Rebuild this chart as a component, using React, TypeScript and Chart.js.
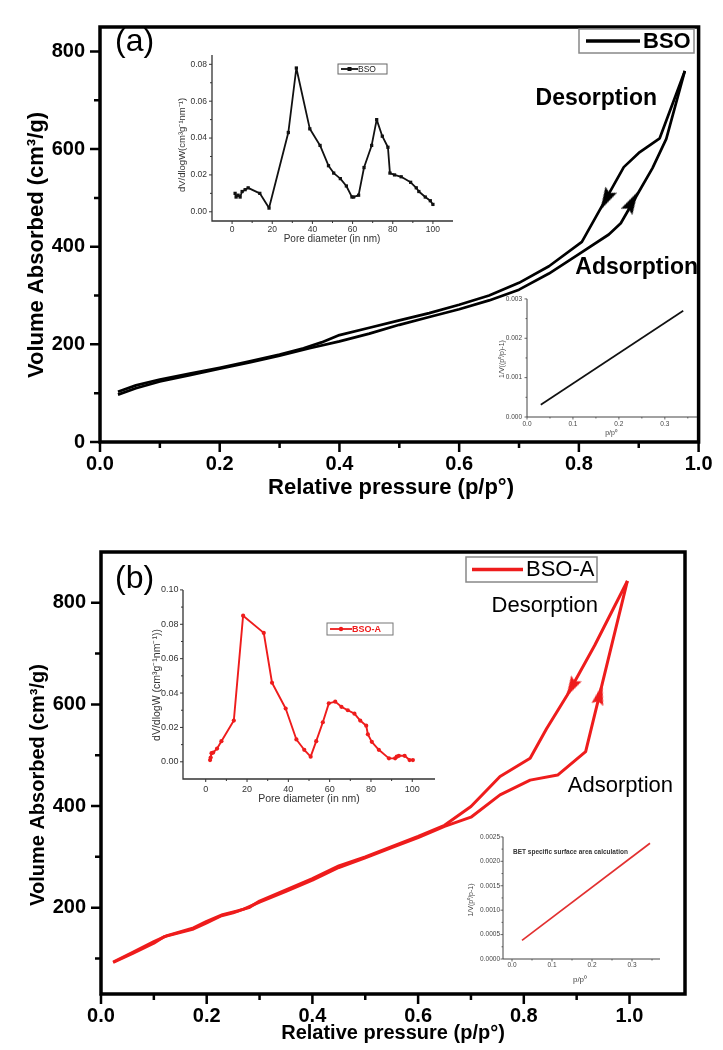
import React, { useEffect, useRef } from "react";
import { Chart, registerables } from "chart.js";

Chart.register(...registerables);

// ---------------- Panel (a): BSO ----------------
const A_ADS_P = [0.03, 0.06, 0.1, 0.15, 0.2, 0.25, 0.3, 0.35, 0.4, 0.45, 0.5, 0.55, 0.6, 0.65, 0.7, 0.75, 0.8, 0.85, 0.87, 0.9, 0.923, 0.946, 0.977];
const A_ADS_V = [97, 110, 124, 137, 150, 163, 177, 192, 206, 222, 240, 256, 272, 290, 312, 345, 385, 425, 448, 512, 561, 621, 760];
const A_DES_P = [0.03, 0.06, 0.1, 0.15, 0.2, 0.25, 0.3, 0.34, 0.37, 0.4, 0.45, 0.5, 0.55, 0.6, 0.65, 0.7, 0.75, 0.805, 0.875, 0.9, 0.935, 0.977];
const A_DES_V = [103, 116, 128, 140, 152, 165, 179, 192, 204, 219, 234, 249, 264, 281, 300, 326, 360, 410, 563, 592, 622, 760];
const A_ARROW_P = [0.845, 0.889];
const A_ARROW_V = [496, 492];

const A_PORE_D = [1.5, 2, 3, 4, 5, 6.5, 8, 13.8, 18.4, 28, 32, 38.7, 43.8, 48, 50.6, 53.9, 56.9, 59.7, 60.5, 63, 65.7, 69.5, 72, 74.8, 77.6, 78.6, 80.9, 84.2, 88.9, 91.7, 93, 96.2, 98.7, 100];
const A_PORE_V = [0.010, 0.008, 0.009, 0.008, 0.011, 0.012, 0.013, 0.010, 0.002, 0.043, 0.078, 0.045, 0.036, 0.025, 0.021, 0.018, 0.014, 0.008, 0.008, 0.009, 0.024, 0.036, 0.050, 0.041, 0.035, 0.021, 0.020, 0.019, 0.016, 0.013, 0.011, 0.008, 0.006, 0.004];

const A_BET_P = [0.03, 0.34];
const A_BET_Y = [0.00031, 0.0027];

// ---------------- Panel (b): BSO-A ----------------
const B_ADS_P = [0.023, 0.06, 0.1, 0.12, 0.175, 0.2, 0.228, 0.25, 0.27, 0.3, 0.35, 0.4, 0.45, 0.5, 0.55, 0.6, 0.65, 0.7, 0.755, 0.812, 0.864, 0.917, 0.996];
const B_ADS_V = [92, 110, 130, 143, 158, 170, 184, 190, 197, 211, 232, 254, 279, 298, 318, 338, 360, 378, 422, 451, 461, 507, 843];
const B_DES_P = [0.023, 0.06, 0.1, 0.125, 0.175, 0.2, 0.23, 0.26, 0.28, 0.3, 0.35, 0.4, 0.45, 0.5, 0.55, 0.6, 0.65, 0.7, 0.755, 0.812, 0.843, 0.882, 0.934, 0.996];
const B_DES_V = [93, 112, 133, 145, 160, 173, 186, 194, 200, 213, 235, 257, 282, 300, 320, 340, 362, 399, 458, 494, 552, 618, 716, 843];
const B_ARROW_P = [0.89, 0.944];
const B_ARROW_V = [633, 620];

const B_PORE_D = [2.1, 2.4, 2.8, 3.6, 5.5, 7.6, 13.6, 18.1, 28.1, 32.1, 38.7, 43.9, 47.7, 50.8, 53.5, 56.7, 59.6, 62.7, 65.7, 68.8, 72, 74.8, 77.7, 78.5, 80.4, 83.8, 88.7, 91.7, 92.5, 93.5, 96.3, 98.7, 100.3];
const B_PORE_V = [0.001, 0.0025, 0.005, 0.0054, 0.0077, 0.012, 0.024, 0.085, 0.075, 0.046, 0.031, 0.013, 0.007, 0.003, 0.012, 0.023, 0.034, 0.035, 0.032, 0.030, 0.028, 0.024, 0.021, 0.016, 0.0116, 0.007, 0.002, 0.002, 0.003, 0.0035, 0.0035, 0.001, 0.001];

const B_BET_P = [0.025, 0.345];
const B_BET_Y = [0.00038, 0.00237];

// ---------------- Tick values ----------------
const MAIN_X_MAJOR = [0, 0.2, 0.4, 0.6, 0.8, 1.0];
const MAIN_X_MINOR = [0.1, 0.3, 0.5, 0.7, 0.9];
const A_Y_MAJOR = [0, 200, 400, 600, 800];
const A_Y_MINOR = [100, 300, 500, 700];
const B_Y_MAJOR = [200, 400, 600, 800];
const B_Y_MINOR = [100, 300, 500, 700];
const PORE_X_MAJOR = [0, 20, 40, 60, 80, 100];
const PORE_X_MINOR = [10, 30, 50, 70, 90];
const A_PORE_Y_MAJOR = [0, 0.02, 0.04, 0.06, 0.08];
const A_PORE_Y_MINOR = [0.01, 0.03, 0.05, 0.07];
const B_PORE_Y_MAJOR = [0, 0.02, 0.04, 0.06, 0.08, 0.1];
const B_PORE_Y_MINOR = [0.01, 0.03, 0.05, 0.07, 0.09];
const BET_X_MAJOR = [0, 0.1, 0.2, 0.3];
const BET_X_MINOR = [0.05, 0.15, 0.25, 0.35];
const A_BET_Y_MAJOR = [0, 0.001, 0.002, 0.003];
const A_BET_Y_MINOR = [0.0005, 0.0015, 0.0025];
const B_BET_Y_MAJOR = [0, 0.0005, 0.001, 0.0015, 0.002, 0.0025];
const B_BET_Y_MINOR = [0.00025, 0.00075, 0.00125, 0.00175, 0.00225];

// arrow head orientation (degrees, clockwise from up)
const A_ARROW_ROT = [208, 29];
const B_ARROW_ROT = [209, 14];

const FONT = '"Liberation Sans", Arial, Helvetica, sans-serif';
const RED = "#ee1c1c";

const pts = (xs: number[], ys: number[]) => xs.map((x, i) => ({ x, y: ys[i] }));
const fontStr = (size: number, bold?: boolean) => `${bold ? "bold " : ""}${size}px ${FONT}`;

// elongated arrow-head image used as a point style
function arrowHead(color: string, w: number, h: number) {
  const c = document.createElement("canvas");
  c.width = w;
  c.height = h;
  const g = c.getContext("2d")!;
  g.fillStyle = color;
  g.beginPath();
  g.moveTo(w / 2, 0);
  g.lineTo(w, h);
  g.lineTo(w / 2, h * 0.84);
  g.lineTo(0, h);
  g.closePath();
  g.fill();
  return c;
}

type Axis = { min: number; max: number; major: number[]; minor: number[]; fmt: (v: number) => string; size: number; bold?: boolean; color: string; pad: number };
type Txt = { t: string; x: number; y: number; size: number; bold?: boolean; color?: string; align?: CanvasTextAlign; rot?: boolean };
type Leg = { box: number[]; line: number[]; label: string; color: string; width: number; marker?: "rect" | "circle"; m?: number; size: number; bold?: boolean; textColor?: string; textX: number; border: string; borderW: number };
type Spec = {
  area: number[]; pad: number[];
  x: Axis; y: Axis;
  frame: "box" | "axes"; frameW: number; axisColor: string;
  tickLen: number[]; tickW: number;
  datasets: () => any[];
  texts: Txt[];
  legend?: Leg;
};

function geom(s: Spec) {
  const [L, T, R, B] = s.area;
  const [pl, pt, pr, pb] = s.pad;
  return { ox: L - pl, oy: T - pt, W: R - L + pl + pr, H: B - T + pt + pb };
}

const isIn = (arr: number[], v: number) => arr.some((m) => Math.abs(m - v) < 1e-12);

function axisOpts(a: Axis, horizontal: boolean, size: number) {
  return {
    type: "linear",
    min: a.min,
    max: a.max,
    afterBuildTicks: (sc: any) => {
      sc.ticks = [...a.major, ...a.minor].sort((p, q) => p - q).map((v) => ({ value: v }));
    },
    afterFit: (sc: any) => {
      if (horizontal) sc.height = size;
      else sc.width = size;
    },
    grid: { display: false, drawTicks: false },
    border: { display: false },
    title: { display: false },
    ticks: {
      autoSkip: false,
      maxRotation: 0,
      minRotation: 0,
      padding: a.pad,
      color: a.color,
      font: { family: FONT, size: a.size, weight: a.bold ? "bold" : "normal" },
      callback: (v: any) => (isIn(a.major, Number(v)) ? a.fmt(Number(v)) : ""),
    },
  };
}

function decor(s: Spec, ox: number, oy: number) {
  return {
    id: "decor",
    afterDatasetsDraw(chart: any) {
      const ctx = chart.ctx as CanvasRenderingContext2D;
      const a = chart.chartArea;
      const xs = chart.scales.x;
      const ys = chart.scales.y;
      ctx.save();
      ctx.strokeStyle = s.axisColor;
      ctx.lineWidth = s.frameW;
      if (s.frame === "box") {
        ctx.strokeRect(a.left, a.top, a.right - a.left, a.bottom - a.top);
      } else {
        ctx.beginPath();
        ctx.moveTo(a.left, a.top);
        ctx.lineTo(a.left, a.bottom);
        ctx.lineTo(a.right, a.bottom);
        ctx.stroke();
      }
      ctx.lineWidth = s.tickW;
      const [ML, mL] = s.tickLen;
      ctx.beginPath();
      const xt = (v: number, len: number) => {
        const p = xs.getPixelForValue(v);
        ctx.moveTo(p, a.bottom);
        ctx.lineTo(p, a.bottom + len);
      };
      const yt = (v: number, len: number) => {
        const p = ys.getPixelForValue(v);
        ctx.moveTo(a.left, p);
        ctx.lineTo(a.left - len, p);
      };
      s.x.major.forEach((v) => xt(v, ML));
      s.x.minor.forEach((v) => xt(v, mL));
      s.y.major.forEach((v) => yt(v, ML));
      s.y.minor.forEach((v) => yt(v, mL));
      ctx.stroke();

      if (s.legend) {
        const g = s.legend;
        const x0 = g.box[0] - ox, y0 = g.box[1] - oy, x1 = g.box[2] - ox, y1 = g.box[3] - oy;
        ctx.lineWidth = g.borderW;
        ctx.strokeStyle = g.border;
        ctx.strokeRect(x0, y0, x1 - x0, y1 - y0);
        const cy = (y0 + y1) / 2;
        ctx.strokeStyle = g.color;
        ctx.lineWidth = g.width;
        ctx.beginPath();
        ctx.moveTo(g.line[0] - ox, cy);
        ctx.lineTo(g.line[1] - ox, cy);
        ctx.stroke();
        if (g.marker) {
          const mx = (g.line[0] + g.line[1]) / 2 - ox;
          const m = g.m || 2;
          ctx.fillStyle = g.color;
          if (g.marker === "rect") ctx.fillRect(mx - m, cy - m, 2 * m, 2 * m);
          else {
            ctx.beginPath();
            ctx.arc(mx, cy, m, 0, Math.PI * 2);
            ctx.fill();
          }
        }
        ctx.fillStyle = g.textColor || "#000";
        ctx.font = fontStr(g.size, g.bold);
        ctx.textAlign = "left";
        ctx.textBaseline = "middle";
        ctx.fillText(g.label, g.textX - ox, cy + 0.5);
      }

      for (const t of s.texts) {
        ctx.save();
        ctx.fillStyle = t.color || "#000";
        ctx.font = fontStr(t.size, t.bold);
        ctx.textBaseline = "middle";
        ctx.translate(t.x - ox, t.y - oy);
        if (t.rot) {
          ctx.rotate(-Math.PI / 2);
          ctx.textAlign = "center";
        } else ctx.textAlign = t.align || "center";
        ctx.fillText(t.t, 0, 0);
        ctx.restore();
      }
      ctx.restore();
    },
  };
}

const lineDs = (label: string, data: any[], color: string, width: number, extra: any = {}) => ({
  label,
  data,
  borderColor: color,
  backgroundColor: color,
  borderWidth: width,
  pointRadius: 0,
  tension: 0,
  fill: false,
  borderJoinStyle: "round",
  ...extra,
});

const arrowDs = (data: any[], rot: number[], color: string, w: number, h: number) => ({
  label: "arrows",
  data,
  showLine: false,
  pointStyle: arrowHead(color, w, h),
  pointRadius: 10,
  pointRotation: rot,
});

const fx1 = (v: number) => v.toFixed(1);

const SPECS: Spec[] = [
  // Main (a)
  {
    area: [100, 15, 705, 442],
    pad: [100, 15, 18, 78],
    x: { min: 0, max: 1, major: MAIN_X_MAJOR, minor: MAIN_X_MINOR, fmt: fx1, size: 20, bold: true, color: "#000", pad: 10.5 },
    y: { min: 0, max: 850, major: A_Y_MAJOR, minor: A_Y_MINOR, fmt: (v) => String(v), size: 20, bold: true, color: "#000", pad: 15 },
    frame: "box", frameW: 3.5, axisColor: "#000", tickLen: [10, 6], tickW: 2.5,
    datasets: () => [
      lineDs("BSO adsorption", pts(A_ADS_P, A_ADS_V), "#000", 2.7),
      lineDs("BSO desorption", pts(A_DES_P, A_DES_V), "#000", 2.7),
      arrowDs(pts(A_ARROW_P, A_ARROW_V), A_ARROW_ROT, "#000", 13, 23),
    ],
    texts: [
      { t: "(a)", x: 115, y: 42, size: 32, align: "left" },
      { t: "Desorption", x: 657, y: 99, size: 23, bold: true, align: "right" },
      { t: "Adsorption", x: 698, y: 268, size: 23, bold: true, align: "right" },
      { t: "Volume Absorbed (cm³/g)", x: 37, y: 245, size: 22, bold: true, rot: true },
      { t: "Relative pressure (p/p°)", x: 391, y: 488, size: 22, bold: true },
    ],
    legend: { box: [579, 29, 694, 53], line: [586, 640], label: "BSO", color: "#000", width: 3.5, size: 22, bold: true, textX: 643, border: "#888", borderW: 1.5 },
  },
  // Main (b)
  {
    area: [101, 550, 685, 994],
    pad: [101, 25, 38, 56],
    x: { min: 0, max: 1.105, major: MAIN_X_MAJOR, minor: MAIN_X_MINOR, fmt: fx1, size: 20, bold: true, color: "#000", pad: 10.5 },
    y: { min: 30, max: 900, major: B_Y_MAJOR, minor: B_Y_MINOR, fmt: (v) => String(v), size: 20, bold: true, color: "#000", pad: 15 },
    frame: "box", frameW: 3.5, axisColor: "#000", tickLen: [10, 6], tickW: 2.5,
    datasets: () => [
      lineDs("BSO-A adsorption", pts(B_ADS_P, B_ADS_V), RED, 3),
      lineDs("BSO-A desorption", pts(B_DES_P, B_DES_V), RED, 3),
      arrowDs(pts(B_ARROW_P, B_ARROW_V), B_ARROW_ROT, RED, 12, 21),
    ],
    texts: [
      { t: "(b)", x: 115, y: 579, size: 32, align: "left" },
      { t: "Desorption", x: 598, y: 606, size: 22, align: "right" },
      { t: "Adsorption", x: 673, y: 786, size: 22, align: "right" },
      { t: "Volume Absorbed (cm³/g)", x: 38, y: 785, size: 20, bold: true, rot: true },
      { t: "Relative pressure (p/p°)", x: 393, y: 1033, size: 20, bold: true },
    ],
    legend: { box: [466, 557, 597, 582], line: [472, 523], label: "BSO-A", color: RED, width: 3.5, size: 22, textX: 526, border: "#888", borderW: 1.5 },
  },
  // Inset (a) pore size
  {
    area: [212, 51, 453, 221],
    pad: [45, 6, 8, 25],
    x: { min: -10, max: 110, major: PORE_X_MAJOR, minor: PORE_X_MINOR, fmt: (v) => String(v), size: 8.5, color: "#333", pad: 4 },
    y: { min: -0.005, max: 0.085, major: A_PORE_Y_MAJOR, minor: A_PORE_Y_MINOR, fmt: (v) => v.toFixed(2), size: 8.5, color: "#333", pad: 5 },
    frame: "axes", frameW: 1.3, axisColor: "#333", tickLen: [3, 2], tickW: 1,
    datasets: () => [
      lineDs("BSO", pts(A_PORE_D, A_PORE_V), "#111", 1.8, { pointRadius: 2.3, pointStyle: "rect", pointBackgroundColor: "#111", pointBorderWidth: 0 }),
    ],
    texts: [
      { t: "dV/dlogW(cm³g⁻¹nm⁻¹)", x: 182, y: 145, size: 9.5, color: "#333", rot: true },
      { t: "Pore diameter (in nm)", x: 332, y: 239.5, size: 10, color: "#333" },
    ],
    legend: { box: [338, 64, 387, 74], line: [341, 358], label: "BSO", color: "#111", width: 1.8, marker: "rect", m: 2, size: 8.5, textColor: "#222", textX: 358, border: "#666", borderW: 1 },
  },
  // Inset (b) pore size
  {
    area: [183, 588, 435, 779],
    pad: [35, 8, 8, 27],
    x: { min: -11, max: 111, major: PORE_X_MAJOR, minor: PORE_X_MINOR, fmt: (v) => String(v), size: 9, color: "#333", pad: 5 },
    y: { min: -0.01, max: 0.1, major: B_PORE_Y_MAJOR, minor: B_PORE_Y_MINOR, fmt: (v) => v.toFixed(2), size: 9, color: "#333", pad: 4.5 },
    frame: "axes", frameW: 1.3, axisColor: "#333", tickLen: [3, 2], tickW: 1,
    datasets: () => [
      lineDs("BSO-A", pts(B_PORE_D, B_PORE_V), RED, 1.9, { pointRadius: 2.1, pointStyle: "circle", pointBackgroundColor: RED, pointBorderWidth: 0 }),
    ],
    texts: [
      { t: "dV/dlogW (cm³g⁻¹nm⁻¹))", x: 157, y: 685, size: 10.5, color: "#333", rot: true },
      { t: "Pore diameter (in nm)", x: 309, y: 799.5, size: 10.5, color: "#333" },
    ],
    legend: { box: [327, 623, 393, 635], line: [330, 352], label: "BSO-A", color: RED, width: 1.8, marker: "circle", m: 2.2, size: 9, bold: true, textColor: RED, textX: 352, border: "#777", borderW: 1 },
  },
  // Inset (a) BET
  {
    area: [527, 296, 697, 417],
    pad: [30, 6, 6, 22],
    x: { min: 0, max: 0.37, major: BET_X_MAJOR, minor: BET_X_MINOR, fmt: fx1, size: 6.5, color: "#444", pad: 3.5 },
    y: { min: 0, max: 0.003, major: A_BET_Y_MAJOR, minor: A_BET_Y_MINOR, fmt: (v) => v.toFixed(3), size: 6.5, color: "#444", pad: 5 },
    frame: "axes", frameW: 1, axisColor: "#444", tickLen: [2.5, 1.5], tickW: 0.8,
    datasets: () => [lineDs("BET", pts(A_BET_P, A_BET_Y), "#111", 1.7)],
    texts: [
      { t: "1/V((p⁰/p)-1)", x: 502, y: 359, size: 7, color: "#444", rot: true },
      { t: "p/p⁰", x: 611, y: 433, size: 7, color: "#444" },
    ],
  },
  // Inset (b) BET
  {
    area: [503, 836, 660, 959],
    pad: [36, 6, 6, 28],
    x: { min: -0.0225, max: 0.37, major: BET_X_MAJOR, minor: BET_X_MINOR, fmt: fx1, size: 6.5, color: "#444", pad: 2.5 },
    y: { min: 0, max: 0.0025, major: B_BET_Y_MAJOR, minor: B_BET_Y_MINOR, fmt: (v) => v.toFixed(4), size: 6.5, color: "#444", pad: 3 },
    frame: "axes", frameW: 1, axisColor: "#444", tickLen: [2.5, 1.5], tickW: 0.8,
    datasets: () => [lineDs("BET", pts(B_BET_P, B_BET_Y), "#e23030", 1.7)],
    texts: [
      { t: "1/V(p⁰/p-1)", x: 471, y: 900, size: 7, color: "#444", rot: true },
      { t: "p/p⁰", x: 580, y: 980, size: 8, color: "#444" },
      { t: "BET specific surface area calculation", x: 513, y: 852, size: 6.5, bold: true, color: "#333", align: "left" },
    ],
  },
];

export default function App() {
  const refs = useRef<(HTMLCanvasElement | null)[]>([]);

  useEffect(() => {
    const charts: Chart[] = [];
    SPECS.forEach((s, i) => {
      const cv = refs.current[i];
      if (!cv) return;
      const g = geom(s);
      const cfg: any = {
        type: "line",
        data: { datasets: s.datasets() },
        options: {
          responsive: false,
          maintainAspectRatio: false,
          animation: false,
          events: [],
          devicePixelRatio: 1,
          layout: { padding: { left: 0, top: s.pad[1], right: s.pad[2], bottom: 0 } },
          plugins: { legend: { display: false }, tooltip: { enabled: false }, title: { display: false } },
          scales: {
            x: { ...axisOpts(s.x, true, s.pad[3]), position: "bottom" },
            y: { ...axisOpts(s.y, false, s.pad[0]), position: "left" },
          },
        },
        plugins: [decor(s, g.ox, g.oy)],
      };
      charts.push(new Chart(cv, cfg));
    });
    return () => charts.forEach((c) => c.destroy());
  }, []);

  return (
    <div style={{ position: "absolute", left: 0, top: 0, width: 723, height: 1050, background: "#fff", overflow: "hidden" }}>
      {SPECS.map((s, i) => {
        const g = geom(s);
        return (
          <canvas
            key={i}
            ref={(el) => {
              refs.current[i] = el;
            }}
            width={g.W}
            height={g.H}
            style={{ position: "absolute", left: g.ox, top: g.oy, width: g.W, height: g.H }}
          />
        );
      })}
    </div>
  );
}
